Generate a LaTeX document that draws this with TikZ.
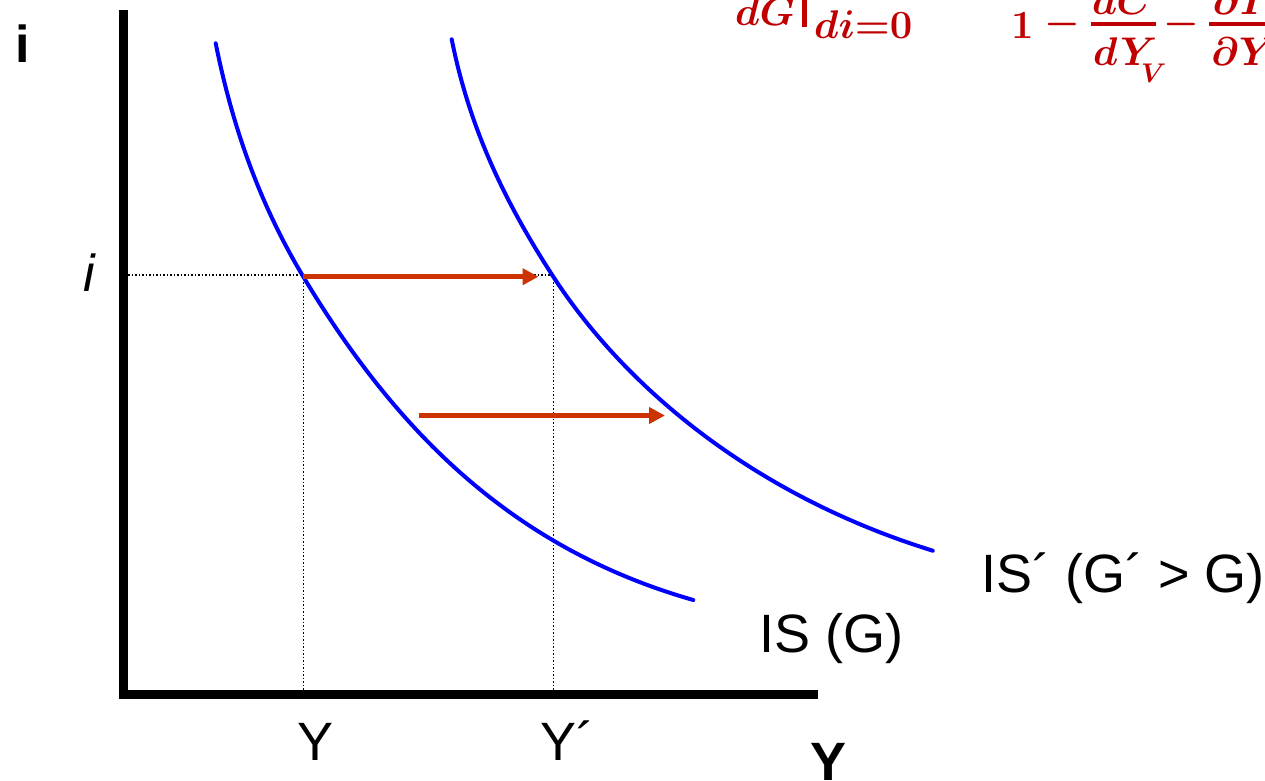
\RequirePackage{fix-cm}
\documentclass[tikz,border=0pt]{standalone}
\usepackage{amsmath}
\usepackage{fontspec}
\setsansfont{Liberation Sans}
\usetikzlibrary{arrows.meta}
\definecolor{formred}{RGB}{192,0,0}
\definecolor{isblue}{RGB}{0,0,255}
\definecolor{shiftred}{RGB}{204,51,0}
\tikzset{
  fml/.style={text=formred, font=\fontsize{40}{44}\selectfont\boldmath, inner sep=0pt},
  fmlsub/.style={text=formred, font=\fontsize{27}{30}\selectfont\boldmath, inner sep=0pt},
  lbl/.style={font=\sffamily\fontsize{54}{58}\selectfont, inner sep=0pt},
  axisline/.style={line width=9pt, black, line join=miter},
  curve/.style={line width=4pt, isblue, line cap=round},
  guide/.style={line width=1.5pt, black, dotted},
  shiftarrow/.style={line width=5pt, shiftred, -{Triangle[length=16pt,width=16pt]}},
  fbar/.style={line width=3.5pt, formred}
}
\begin{document}
\begin{tikzpicture}[x=1pt,y=-1pt]
\clip (0,0) rectangle (1265,780);
\fill[white] (0,0) rectangle (1265,780);

% formula fragment (cut at top)
\node[fml,anchor=base west] (dG) at (735,25) {$dG$};
\fill[formred] (802,-5) rectangle (807,27);
\node[fml,anchor=base west] (cond) at (814,38) {$di{=}0$};
\node[fml,anchor=base west] (one) at (1011,38) {$1$};
\node[fml] (minusA) at (1062,24) {$-$};
\draw[fbar] (1091,24) -- (1156,24);
\node[fml,anchor=base] (numA) at (1122,14) {$dC$};
\node[fml,anchor=base west] (denA) at (1093,65) {$dY$};
\node[fmlsub,anchor=base west] (subV) at (1141,82) {$V$};
\node[fml] (minusB) at (1181,24) {$-$};
\draw[fbar] (1209,24) -- (1268,24);
\node[fml,anchor=base] (numB) at (1238,14) {$\partial I$};
\node[fml,anchor=base west] (denB) at (1211,65) {$\partial Y$};

% axes
\coordinate (top) at (123,10);
\coordinate (origin) at (123,694);
\coordinate (right) at (818,694);
\draw[axisline] (top) -- (origin) -- (right);

% key points
\coordinate (A) at (303.3,275);
\coordinate (B) at (553.3,275);
\coordinate (Ai) at (128,275);
\coordinate (Ax) at (303.3,690);
\coordinate (Bx) at (553.3,690);

% guides
\draw[guide] (Ai) -- (B);
\draw[guide] (A) -- (Ax);
\draw[guide] (B) -- (Bx);

% IS curves
\draw[curve] (215.7,43.3) .. controls (232.4,126.7) and (259.6,203.9) .. (303.3,276.7)
                          .. controls (398.4,435.2) and (515.3,549.1) .. (693.3,600);
\draw[curve] (451.7,39.3) .. controls (469.3,127.5) and (504.3,201.3) .. (553.3,276.7)
                          .. controls (624.2,385.6) and (751.3,494.5) .. (932.8,550.7);

% shift arrows
\coordinate (a1s) at (303.3,276.7);
\coordinate (a1e) at (538.5,276.7);
\coordinate (a2s) at (419,415.5);
\coordinate (a2e) at (665,415.5);
\draw[shiftarrow] (a1s) -- (a1e);
\draw[shiftarrow] (a2s) -- (a2e);

% labels
\node[lbl,anchor=base west,font=\sffamily\bfseries\fontsize{52}{56}\selectfont] (iax) at (15,62) {i};
\node[lbl,anchor=base west,font=\sffamily\itshape\fontsize{52}{56}\selectfont] (ilev) at (83,291) {i};
\node[lbl,anchor=base] (Ylab) at (316,760) {Y};
\node[lbl,anchor=base west] (Yplab) at (540,760) {Y´};
\node[lbl,anchor=base west,font=\sffamily\bfseries\fontsize{54}{58}\selectfont] (Yax) at (810,780) {Y};
\node[lbl,anchor=base west] (ISlab) at (759,652) {IS (G)};
\node[lbl,anchor=base west] (ISplab) at (981,592) {IS´ (G´ > G)};
\end{tikzpicture}
\end{document}
